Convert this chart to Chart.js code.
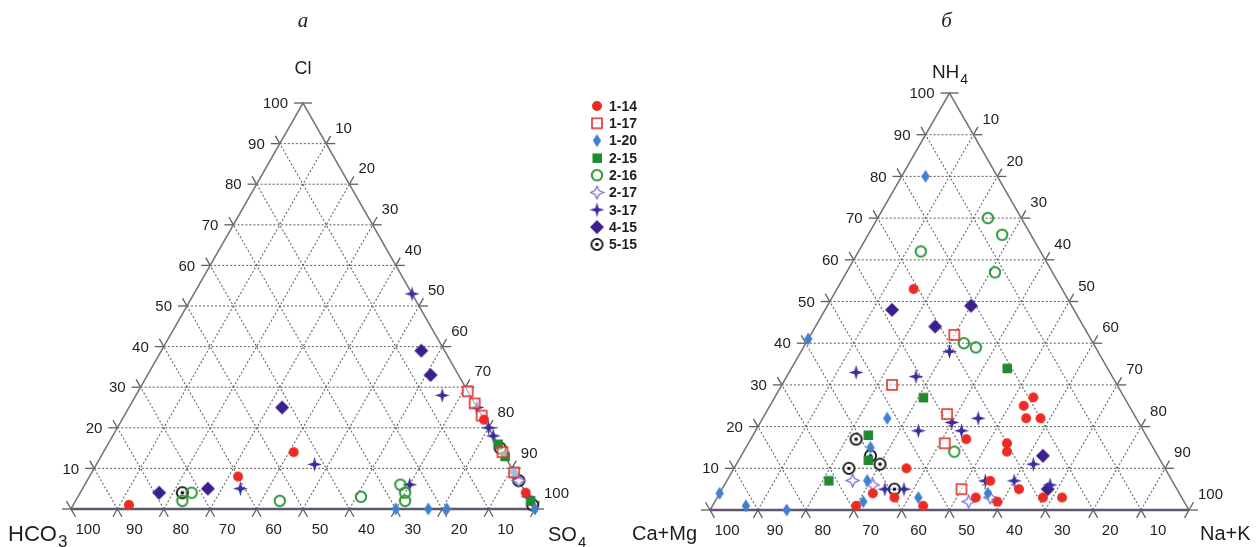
<!DOCTYPE html>
<html lang="ru">
<head>
<meta charset="UTF-8">
<title>Ternary diagrams</title>
<script src="https://cdn.jsdelivr.net/npm/chart.js@4.4.1/dist/chart.umd.min.js"></script>
<style>
    body { margin: 0; background: #fff; }
    #wrap { position: relative; width: 1256px; height: 547px; }
    #wrap canvas { position: absolute; left: 0; top: 0; }
</style>
</head>
<body>
<div id="wrap">
    <canvas id="chart-a" width="1256" height="547"></canvas>
    <canvas id="chart-b" width="1256" height="547"></canvas>
</div>

<script>
    const seriesLabels = ['1-14', '1-17', '1-20', '2-15', '2-16', '2-17', '3-17', '4-15', '5-15'];
    const tickSteps = [10, 20, 30, 40, 50, 60, 70, 80, 90, 100];

    // panel а : [HCO3, SO4, Cl] %
    const an_1_14 = [[87, 12, 1], [60, 32, 8], [45, 41, 14], [0, 78, 22], [0, 96, 4]];
    const an_1_17 = [[0, 71, 29], [0, 74, 26], [0, 77, 23], [0, 86, 14], [0, 91, 9]];
    const an_1_20 = [[30, 70, 0], [23, 77, 0], [19, 81, 0], [0, 91, 9], [0, 100, 0]];
    const an_2_15 = [[0, 84, 16], [0, 87, 13], [0, 98, 2]];
    const an_2_16 = [[72, 24, 4], [75, 23, 2], [54, 44, 2], [36, 61, 3], [26, 68, 6], [26, 70, 4], [27, 71, 2]];
    const an_2_17 = [[0, 93, 7]];
    const an_3_17 = [[61, 34, 5], [42, 47, 11], [24, 70, 6], [6, 66, 28], [0, 47, 53], [0, 75, 25],
                     [0, 80, 20], [0, 82, 18], [0, 92, 8], [0, 97, 3]];
    const an_4_15 = [[79, 17, 4], [68, 27, 5], [42, 33, 25], [5, 56, 39], [6, 61, 33]];
    const an_5_15 = [[74, 22, 4], [0, 85, 15], [0, 93, 7], [0, 99, 1]];

    // panel б : [Ca+Mg, Na+K, NH4] %
    const cat_1_14 = [[31, 16, 53], [54, 36, 10], [64, 32, 4], [60, 37, 3], [69, 30, 1], [55, 44, 1],
                      [38, 45, 17], [19, 54, 27], [22, 53, 25], [23, 55, 22], [20, 58, 22], [30, 54, 16],
                      [31, 55, 14], [33, 62, 5], [29, 68, 3], [25, 72, 3], [43, 54, 3], [39, 59, 2], [38, 55, 7]];
    const cat_1_17 = [[28, 30, 42], [47, 23, 30], [39, 38, 23], [43, 41, 16], [45, 50, 5]];
    const cat_1_20 = [[15, 5, 80], [59, 0, 41], [52, 26, 22], [59, 26, 15], [63, 29, 7], [67, 31, 2],
                      [55, 42, 3], [96, 0, 4], [92, 7, 1], [84, 16, 0], [40, 56, 4]];
    const cat_2_15 = [[42, 31, 27], [58, 24, 18], [61, 27, 12], [71, 21, 7], [21, 45, 34]];
    const cat_2_16 = [[25, 13, 62], [7, 23, 70], [6, 28, 66], [12, 31, 57], [27, 33, 40], [25, 36, 39], [42, 44, 14]];
    const cat_2_17 = [[66, 26, 7], [63, 31, 6], [45, 53, 2], [40, 57, 3]];
    const cat_3_17 = [[31, 31, 38], [53, 14, 33], [41, 27, 32], [39, 40, 21], [47, 34, 19], [61, 34, 5],
                      [57, 38, 5], [33, 45, 22], [38, 43, 19], [27, 62, 11], [33, 60, 7], [39, 54, 7], [26, 68, 6]];
    const cat_4_15 = [[38, 14, 48], [21, 30, 49], [31, 25, 44], [24, 63, 13], [27, 68, 5]];
    const cat_5_15 = [[61, 22, 17], [60, 27, 13], [66, 24, 10], [59, 30, 11], [59, 36, 5]];

    const anionSeries = [an_1_14, an_1_17, an_1_20, an_2_15, an_2_16, an_2_17, an_3_17, an_4_15, an_5_15];
    const cationSeries = [cat_1_14, cat_1_17, cat_1_20, cat_2_15, cat_2_16, cat_2_17, cat_3_17, cat_4_15, cat_5_15];

    // ternary -> cartesian (side = 100)
    function toXY(t) {
        const s = t[0] + t[1] + t[2];
        const b = t[1] * 100 / s, c = t[2] * 100 / s;
        return {x: b + c / 2, y: c * Math.sqrt(3) / 2};
    }

    // marker images
    function makeMarker(w, h, draw) {
        const c = document.createElement('canvas');
        c.width = w; c.height = h;
        draw(c.getContext('2d'), w / 2, h / 2);
        return c;
    }
    function starPath(g, x, y, r, k) {
        const w = r * k;
        g.beginPath();
        g.moveTo(x, y - r); g.lineTo(x + w, y - w); g.lineTo(x + r, y); g.lineTo(x + w, y + w);
        g.lineTo(x, y + r); g.lineTo(x - w, y + w); g.lineTo(x - r, y); g.lineTo(x - w, y - w);
        g.closePath();
    }
    function diamondPath(g, x, y, rx, ry) {
        g.beginPath();
        g.moveTo(x, y - ry); g.lineTo(x + rx, y); g.lineTo(x, y + ry); g.lineTo(x - rx, y);
        g.closePath();
    }
    const markers = [
        makeMarker(12, 12, (g, x, y) => { g.fillStyle = '#ec2b24'; g.beginPath(); g.arc(x, y, 5, 0, 2 * Math.PI); g.fill(); }),
        makeMarker(14, 14, (g) => {
            g.fillStyle = 'rgba(255,255,255,0.5)'; g.fillRect(2, 2, 10, 10);
            g.strokeStyle = '#e2322b'; g.lineWidth = 1.6; g.strokeRect(2, 2, 10, 10);
        }),
        makeMarker(10, 14, (g, x, y) => { g.fillStyle = '#3f80d2'; diamondPath(g, x, y, 4.2, 6.4); g.fill(); }),
        makeMarker(12, 12, (g) => { g.fillStyle = '#21892f'; g.fillRect(1.5, 1.5, 9.5, 9.5); }),
        makeMarker(14, 14, (g, x, y) => {
            g.strokeStyle = '#31983b'; g.lineWidth = 2; g.beginPath(); g.arc(x, y, 5.2, 0, 2 * Math.PI); g.stroke();
        }),
        makeMarker(15, 15, (g, x, y) => {
            g.fillStyle = '#fff'; g.strokeStyle = '#7b70d8'; g.lineWidth = 1.3;
            starPath(g, x, y, 6.3, 0.32); g.fill(); g.stroke();
        }),
        makeMarker(17, 17, (g, x, y) => { g.fillStyle = '#3a2c9e'; starPath(g, x, y, 7.5, 0.22); g.fill(); }),
        makeMarker(16, 16, (g, x, y) => { g.fillStyle = '#3b1f8e'; diamondPath(g, x, y, 7, 7); g.fill(); }),
        makeMarker(15, 15, (g, x, y) => {
            g.fillStyle = '#fff'; g.strokeStyle = '#111'; g.lineWidth = 1.8;
            g.beginPath(); g.arc(x, y, 5.6, 0, 2 * Math.PI); g.fill(); g.stroke();
            g.fillStyle = '#111'; g.beginPath(); g.arc(x, y, 1.8, 0, 2 * Math.PI); g.fill();
        })
    ];

    function seg(ctx, p, q) {
        ctx.beginPath(); ctx.moveTo(p[0], p[1]); ctx.lineTo(q[0], q[1]); ctx.stroke();
    }
    function unit(p, q, fallback) {
        const dx = q[0] - p[0], dy = q[1] - p[1], n = Math.hypot(dx, dy);
        return n < 1e-6 ? fallback : [dx / n, dy / n];
    }

    // triangle frame, grid, ticks, tick labels and names
    const ternaryPlugin = {
        id: 'ternary',
        beforeDatasetsDraw(chart, args, opts) {
            const ctx = chart.ctx, sx = chart.scales.x, sy = chart.scales.y;
            const P = (a, b, c) => { const q = toXY([a, b, c]); return [sx.getPixelForValue(q.x), sy.getPixelForValue(q.y)]; };
            const BL = P(100, 0, 0), BR = P(0, 100, 0), AP = P(0, 0, 100);
            const L = 9;
            ctx.save();

            ctx.setLineDash([2, 2]);
            ctx.strokeStyle = '#666';
            ctx.lineWidth = 1.1;
            tickSteps.filter(k => k < 100).forEach(k => {
                seg(ctx, P(100 - k, 0, k), P(0, 100 - k, k));
                seg(ctx, P(100 - k, k, 0), P(0, k, 100 - k));
                seg(ctx, P(k, 100 - k, 0), P(k, 0, 100 - k));
            });
            ctx.setLineDash([]);

            ctx.strokeStyle = '#5e5e5e';
            ctx.lineWidth = 1.3;
            const leftDir = unit(BL, AP), rightDir = unit(BR, AP);
            [0].concat(tickSteps).forEach(k => {
                const p1 = P(100 - k, 0, k), p2 = P(0, 100 - k, k);
                const d = unit(p1, p2, [1, 0]);
                seg(ctx, p1, [p1[0] - L * d[0], p1[1] - L * d[1]]);
                seg(ctx, p2, [p2[0] + L * d[0], p2[1] + L * d[1]]);
                if (k === 0) return;
                const q1 = P(100 - k, k, 0), q2 = P(0, k, 100 - k);
                const e = unit(q1, q2, leftDir);
                seg(ctx, [q1[0] - L * e[0], q1[1] - L * e[1]], q1);
                seg(ctx, q2, [q2[0] + L * e[0], q2[1] + L * e[1]]);
                const r1 = P(k, 100 - k, 0), r2 = P(k, 0, 100 - k);
                const f = unit(r1, r2, rightDir);
                seg(ctx, [r1[0] - L * f[0], r1[1] - L * f[1]], r1);
                seg(ctx, r2, [r2[0] + L * f[0], r2[1] + L * f[1]]);
            });

            ctx.strokeStyle = '#737373';
            ctx.lineWidth = 1.5;
            ctx.beginPath(); ctx.moveTo(BL[0], BL[1]); ctx.lineTo(AP[0], AP[1]); ctx.lineTo(BR[0], BR[1]); ctx.stroke();
            ctx.strokeStyle = '#5e586e';
            ctx.lineWidth = 2.6;
            seg(ctx, BL, BR);

            ctx.fillStyle = '#1e1e1e';
            ctx.font = '15px "Liberation Sans", Arial, sans-serif';
            ctx.textBaseline = 'middle';
            tickSteps.forEach(k => {
                const p1 = P(100 - k, 0, k), q2 = P(0, k, 100 - k), r1 = P(k, 100 - k, 0);
                ctx.textAlign = 'right';
                ctx.fillText(String(k), p1[0] - 15, p1[1] + 1);
                ctx.textAlign = 'left';
                ctx.fillText(String(k), q2[0] + 9, q2[1] - 15);
                ctx.textAlign = 'center';
                ctx.fillText(String(k), r1[0] + 17, r1[1] + 21);
            });

            // corner names
            ctx.textBaseline = 'alphabetic';
            const name = (parts, x, y, align) => {
                ctx.font = parts[0][1];
                let w = ctx.measureText(parts[0][0]).width;
                ctx.font = parts[1][1];
                w += ctx.measureText(parts[1][0]).width;
                let xs = align === 'center' ? x - w / 2 : x;
                ctx.textAlign = 'left';
                ctx.font = parts[0][1];
                ctx.fillText(parts[0][0], xs, y);
                xs += ctx.measureText(parts[0][0]).width;
                ctx.font = parts[1][1];
                ctx.fillText(parts[1][0], xs + 1, y + 6);
            };
            const sans = '"Liberation Sans", Arial, sans-serif';
            opts.names.forEach(n => {
                const base = n.at === 'top' ? AP : n.at === 'left' ? BL : BR;
                name([[n.text, n.size + 'px ' + sans], [n.sub, (n.size - 5) + 'px ' + sans]],
                     base[0] + n.dx, base[1] + n.dy, n.align);
            });

            ctx.font = 'italic 21px "Liberation Serif", "DejaVu Serif", serif';
            ctx.textAlign = 'center';
            ctx.fillText(opts.title, AP[0] + opts.titleDx, 27);

            if (opts.legend) {
                ctx.font = 'bold 14px "Liberation Sans", Arial, sans-serif';
                ctx.textAlign = 'left';
                ctx.textBaseline = 'middle';
                seriesLabels.forEach((s, i) => {
                    const y = 106 + i * 17.3;
                    const m = markers[i];
                    ctx.drawImage(m, 597 - m.width / 2, y - m.height / 2);
                    ctx.fillStyle = '#1e1e1e';
                    ctx.fillText(s, 609, y + 1);
                });
            }
            ctx.restore();
        }
    };

    function makeChart(id, series, xr, yr, pluginOpts) {
        const datasets = series.map((pts, i) => ({
            label: seriesLabels[i],
            data: pts.map(toXY),
            pointStyle: markers[i],
            pointRadius: 6,
            showLine: false
        }));
        return new Chart(id, {
            type: 'scatter',
            data: {datasets: datasets},
            plugins: [ternaryPlugin],
            options: {
                responsive: false,
                animation: false,
                events: [],
                layout: {padding: 0, autoPadding: false},
                scales: {
                    x: {type: 'linear', display: false, min: xr[0], max: xr[1]},
                    y: {type: 'linear', display: false, min: yr[0], max: yr[1]}
                },
                plugins: {
                    legend: {display: false},
                    tooltip: {enabled: false},
                    ternary: pluginOpts
                }
            }
        });
    }

    makeChart('chart-a', anionSeries, [-15.30, 255.39], [-8.11, 108.58], {
        title: 'а', titleDx: 0, legend: true,
        names: [
            {text: 'Cl', sub: '', at: 'top', dx: 0, dy: -29, size: 18, align: 'center'},
            {text: 'HCO', sub: '3', at: 'left', dx: -63, dy: 32, size: 22, align: 'left'},
            {text: 'SO', sub: '4', at: 'right', dx: 13, dy: 32, size: 20, align: 'left'}
        ]
    });

    makeChart('chart-b', cationSeries, [-148.23, 113.99], [-7.68, 105.92], {
        title: 'б', titleDx: -3, legend: false,
        names: [
            {text: 'NH', sub: '4', at: 'top', dx: 0, dy: -15, size: 19, align: 'center'},
            {text: 'Ca+Mg', sub: '', at: 'left', dx: -78, dy: 30, size: 20, align: 'left'},
            {text: 'Na+K', sub: '', at: 'right', dx: 11, dy: 30, size: 20, align: 'left'}
        ]
    });
</script>
</body>
</html>
